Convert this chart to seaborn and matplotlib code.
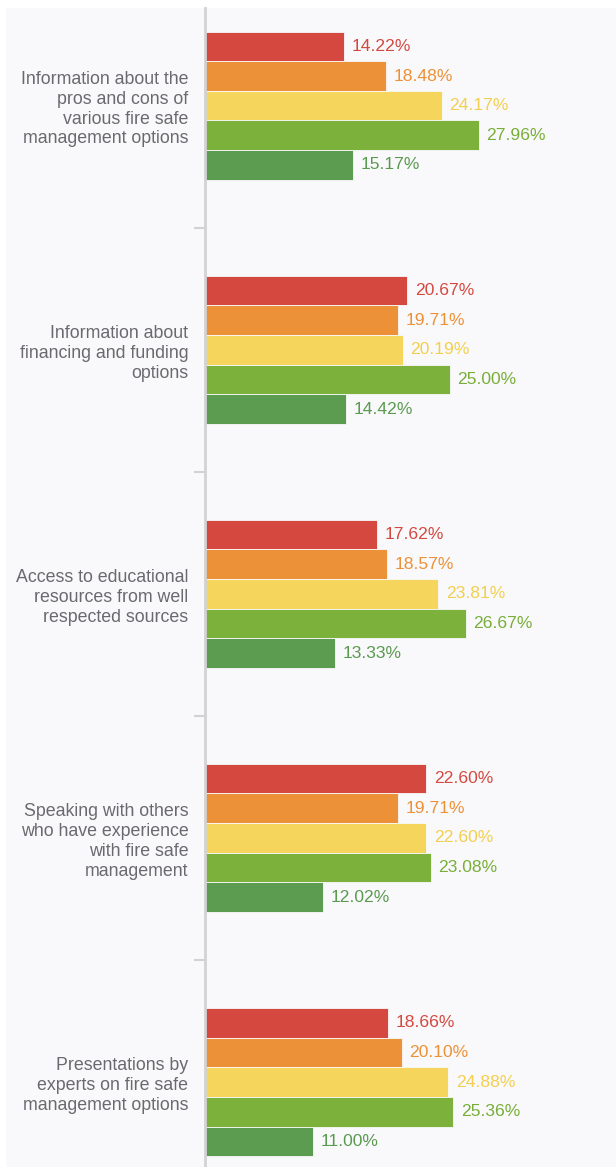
import matplotlib
matplotlib.use("Agg")
import matplotlib.pyplot as plt
from matplotlib.patches import Rectangle
import pandas as pd
import seaborn as sns

categories = [
    "Information about the\npros and cons of\nvarious fire safe\nmanagement options",
    "Information about\nfinancing and funding\noptions",
    "Access to educational\nresources from well\nrespected sources",
    "Speaking with others\nwho have experience\nwith fire safe\nmanagement",
    "Presentations by\nexperts on fire safe\nmanagement options",
]
levels = ["Not at all helpful", "Slightly helpful", "Moderately helpful",
          "Very helpful", "Extremely helpful"]
not_at_all = [14.22, 20.67, 17.62, 22.60, 18.66]
slightly = [18.48, 19.71, 18.57, 19.71, 20.10]
moderately = [24.17, 20.19, 23.81, 22.60, 24.88]
very = [27.96, 25.00, 26.67, 23.08, 25.36]
extremely = [15.17, 14.42, 13.33, 12.02, 11.00]

bar_colors = ["#d4483f", "#ec9137", "#f5d55c", "#7cb13c", "#5c9c51"]
text_colors = ["#d4483f", "#ec9137", "#f2cf4e", "#78ae38", "#5a9a4f"]

series = [not_at_all, slightly, moderately, very, extremely]
rows = []
for lvl, vals in zip(levels, series):
    for cat, v in zip(categories, vals):
        rows.append({"category": cat, "level": lvl, "pct": v})
df = pd.DataFrame(rows)

sns.set_style("white")
plt.rcParams["font.family"] = ["Liberation Sans", "DejaVu Sans"]

W, H, DPI = 616, 1167, 100
fig = plt.figure(figsize=(W / DPI, H / DPI), dpi=DPI, facecolor="white")
panel = "#f9f9fb"
fig.patches.append(Rectangle((6 / W, 0), 1 - 6 / W, 1 - 8 / H,
                             transform=fig.transFigure, facecolor=panel,
                             edgecolor="none", zorder=-10))

ax = fig.add_axes([205 / W, 0, 1 - 205 / W, 1 - 8 / H])
ax.set_facecolor("none")

sns.barplot(data=df, y="category", x="pct", hue="level", order=categories,
            hue_order=levels, palette=bar_colors, orient="h", width=0.607,
            saturation=1, legend=False, ax=ax, edgecolor=panel, linewidth=0.6)

for container, tc in zip(ax.containers, text_colors):
    ax.bar_label(container, labels=[f"{b.get_width():.2f}%" for b in container],
                 padding=5.5, color=tc, fontsize=12.6)

ax.set_xlim(0, 42)
ax.set_ylim(4.348, -0.40)
ax.set_xlabel("")
ax.set_ylabel("")
ax.set_xticks([])
for s in ["top", "right", "bottom"]:
    ax.spines[s].set_visible(False)
ax.spines["left"].set_color("#d2d2d4")
ax.spines["left"].set_linewidth(2)

ax.set_yticks(range(len(categories)))
ax.set_yticklabels(categories, fontsize=12.8, color="#6a6a6e", linespacing=1.22)
ax.tick_params(axis="y", which="major", left=False, length=0, pad=12)
ax.set_yticks([0.5, 1.5, 2.5, 3.5], minor=True)
ax.tick_params(axis="y", which="minor", left=True, length=8, width=1.5,
               color="#d2d2d4")

fig.savefig("out.png", dpi=DPI, facecolor=fig.get_facecolor())
